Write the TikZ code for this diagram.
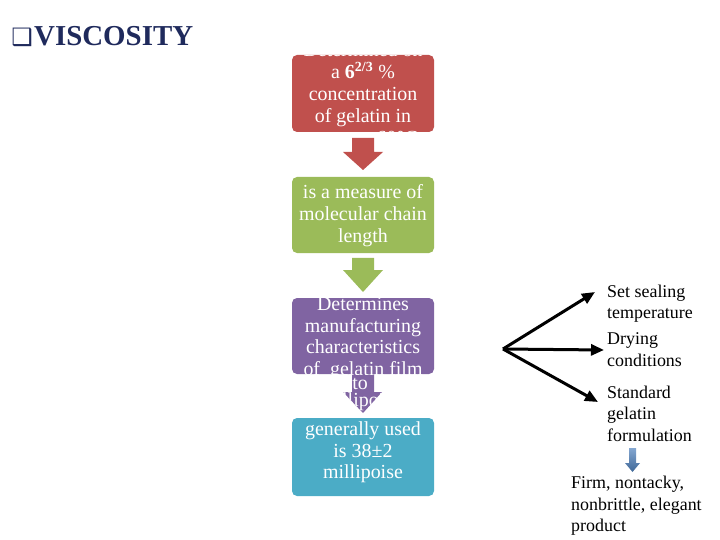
\documentclass[tikz,border=0pt]{standalone}
\usepackage{fontspec}
\setmainfont{Liberation Serif}
\newfontfamily\dejavu{DejaVu Sans}
\usetikzlibrary{arrows.meta}
\definecolor{redbox}{HTML}{C0504D}
\definecolor{greenbox}{HTML}{9BBB59}
\definecolor{purplebox}{HTML}{8064A2}
\definecolor{cyanbox}{HTML}{4BACC6}
\definecolor{navy}{HTML}{1F2A5C}
\definecolor{bluearrow}{HTML}{4F81BD}
\begin{document}
\begin{tikzpicture}[x=1bp,y=-1bp,
  boxshape/.style={rounded corners=5bp, inner sep=0pt, outer sep=0pt, minimum width=142bp, minimum height=#1, draw=none},
  boxtext/.style={anchor=base, inner sep=0pt, text=white, font=\fontsize{20}{22}\selectfont},
  sidetext/.style={anchor=base west, inner sep=0pt, font=\fontsize{18}{21}\selectfont},
  forkarrow/.style={line width=3bp, -{Triangle[length=13bp,width=11bp]}}
]
\useasboundingbox (0,0) rectangle (720,540);

% title
\node[anchor=base east, inner sep=0pt, text=navy, font=\fontsize{24}{26}\dejavu] (bullet) at (33,46) {❑};
\node[anchor=base west, inner sep=0pt, text=navy, font=\fontsize{29}{32}\selectfont\bfseries] (title) at (34,46) {VISCOSITY};

% boxes
\node[boxshape=77bp, fill=redbox] (b1) at (363,93.5) {};
\node[boxshape=76bp, fill=greenbox] (b2) at (363,215) {};
\node[boxshape=76bp, fill=purplebox] (b3) at (363,336) {};
\node[boxshape=78bp, fill=cyanbox] (b4) at (363,457) {};

% block arrows
\fill[redbox] (352,138) -- (374,138) -- (374,152) -- (383,152) -- (363,170) -- (343,152) -- (352,152) -- cycle;
\fill[greenbox] (352,258) -- (374,258) -- (374,270) -- (383,270) -- (363,292) -- (343,270) -- (352,270) -- cycle;
\fill[purplebox] (352,374) -- (374,374) -- (374,392) -- (382,392) -- (363,413) -- (343,392) -- (352,392) -- cycle;

% red box text
\begin{scope}
\clip[rounded corners=5bp] (b1.south west) rectangle (b1.north east);
\node[boxtext] (r1) at (363,57) {Determined on};
\node[boxtext] (r2) at (363,78.8) {a \textbf{6\textsuperscript{2/3}} \%};
\node[boxtext] (r3) at (363,100.6) {concentration};
\node[boxtext] (r4) at (363,122.4) {of gelatin in};
\node[boxtext] (r5) at (363,144.2) {water at 60°C};
\end{scope}

% green box text
\node[boxtext] (g1) at (363,198.5) {is a measure of};
\node[boxtext] (g2) at (363,220.5) {molecular chain};
\node[boxtext] (g3) at (363,242.5) {length};

% purple box text
\begin{scope}
\clip[rounded corners=5bp] (b3.south west) rectangle (b3.north east);
\node[boxtext] (p1) at (363,310.5) {Determines};
\node[boxtext] (p2) at (363,332) {manufacturing};
\node[boxtext] (p3) at (363,353.5) {characteristics};
\node[boxtext, text depth=0pt] (p4) at (363,375) {of~~gelatin film};
\end{scope}

% overflow text visible on purple arrow
\begin{scope}
\clip (352,374) -- (374,374) -- (374,392) -- (382,392) -- (363,413) -- (343,392) -- (352,392) -- cycle;
\node[boxtext, text height=9bp, text depth=0pt] (o1) at (360,389) {to};
\node[boxtext, text height=9bp] (o2) at (361,406) {millipoise};
\end{scope}

% cyan box text
\node[boxtext] (c1) at (363,435.5) {generally used};
\node[boxtext] (c2) at (363,457) {is 38±2};
\node[boxtext] (c3) at (363,478.5) {millipoise};

% right side
\coordinate (fork) at (503,349);
\coordinate (t1) at (595,292);
\coordinate (t2) at (604,350);
\coordinate (t3) at (598,402);
\draw[forkarrow] (fork) -- (t1);
\draw[forkarrow] (fork) -- (t2);
\draw[forkarrow] (fork) -- (t3);

\node[sidetext] (s1) at (607,297) {Set sealing};
\node[sidetext] (s2) at (607,318) {temperature};
\node[sidetext] (s3) at (607,344) {Drying};
\node[sidetext] (s4) at (607,366) {conditions};
\node[sidetext] (s5) at (607,398) {Standard};
\node[sidetext] (s6) at (607,419) {gelatin};
\node[sidetext] (s7) at (607,441) {formulation};

\shade[top color=bluearrow!70!white, bottom color=bluearrow!80!black] (629,448) -- (636,448) -- (636,463) -- (640,463) -- (632.5,472) -- (625,463) -- (629,463) -- cycle;

\node[sidetext] (f1) at (571,488) {Firm, nontacky,};
\node[sidetext] (f2) at (571,510) {nonbrittle, elegant};
\node[sidetext] (f3) at (571,531) {product};
\end{tikzpicture}
\end{document}
